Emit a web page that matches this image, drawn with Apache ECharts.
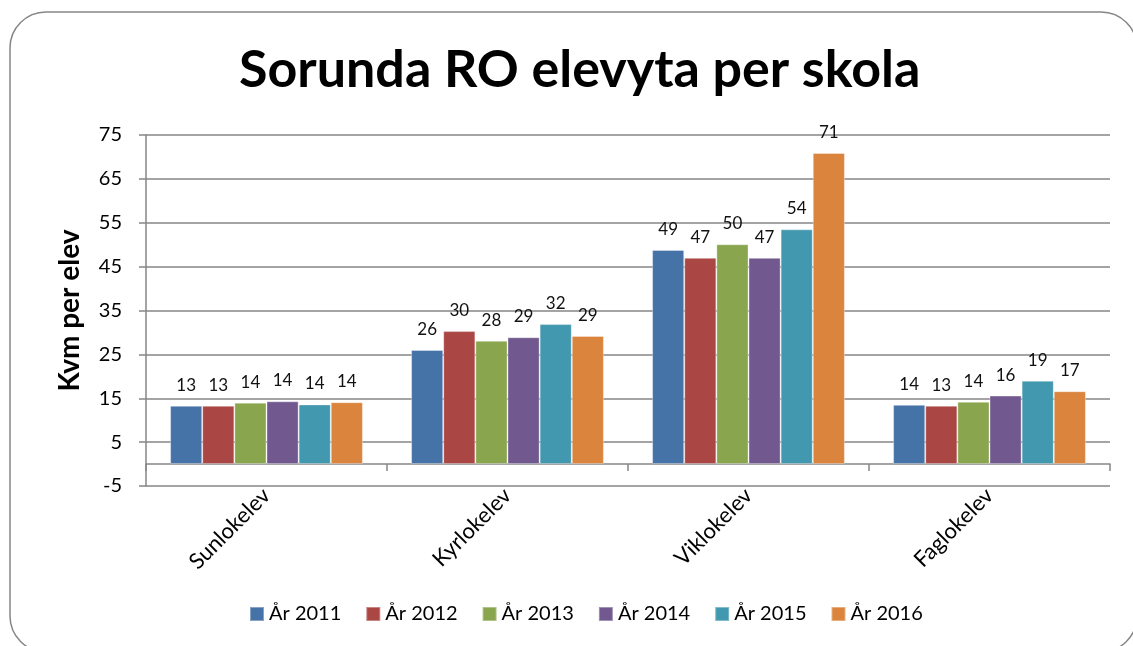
<!DOCTYPE html>
<html>
<head>
<meta charset="utf-8">
<script src="https://cdn.jsdelivr.net/npm/echarts@6/dist/echarts.min.js"></script>
<style>
  html, body { margin: 0; padding: 0; background: #fff; }
  #main { width: 1133px; height: 646px; }
</style>
</head>
<body>
<div id="main"></div>
<script>
const schools = ["Sunlokelev", "Kyrlokelev", "Viklokelev", "Faglokelev"];
const years = ["År 2011", "År 2012", "År 2013", "År 2014", "År 2015", "År 2016"];

const ar2011 = [13.3, 26.0, 48.8, 13.5];
const ar2012 = [13.3, 30.3, 47.0, 13.3];
const ar2013 = [14.0, 28.1, 50.1, 14.2];
const ar2014 = [14.3, 28.9, 47.0, 15.6];
const ar2015 = [13.6, 31.9, 53.5, 19.0];
const ar2016 = [14.1, 29.2, 70.9, 16.6];

const yTicks = { min: -5, max: 75, step: 10 };
const colors = ["#4572A7", "#AA4643", "#89A54E", "#71588F", "#4198AF", "#DB843D"];

const font = "Lato, 'Open Sans', sans-serif";
const grey = "#868686";

const chart = echarts.init(document.getElementById("main"));

const seriesData = [ar2011, ar2012, ar2013, ar2014, ar2015, ar2016];

const options = {
  color: colors,
  textStyle: { fontFamily: font },
  title: {
    text: "Sorunda RO elevyta per skola",
    left: 234,
    top: 39,
    textStyle: { fontFamily: font, fontSize: 52, fontWeight: "bold", color: "#000" },
  },
  graphic: [
    {
      type: "rect",
      shape: { x: 10, y: 12, width: 1127, height: 640, r: 36 },
      style: { fill: "none", stroke: grey, lineWidth: 1.5 },
      silent: true,
    },
  ],
  legend: {
    data: years,
    bottom: 17,
    left: 244,
    itemWidth: 14,
    itemHeight: 14,
    itemGap: 24,
    icon: "rect",
    textStyle: { fontFamily: font, fontSize: 20, color: "#000" },
  },
  grid: { left: 146, right: 23, top: 135, bottom: 160, containLabel: false },
  xAxis: {
    type: "category",
    data: schools,
    axisLine: { onZero: true, lineStyle: { color: grey, width: 1.5 } },
    axisTick: { show: true, length: 7, lineStyle: { color: grey, width: 1.5 } },
    axisLabel: {
      rotate: 45,
      margin: 6,
      fontFamily: font,
      fontSize: 22,
      color: "#000",
    },
  },
  yAxis: {
    type: "value",
    min: yTicks.min,
    max: yTicks.max,
    interval: yTicks.step,
    name: "Kvm per elev",
    nameLocation: "middle",
    nameGap: 62,
    nameTextStyle: { fontFamily: font, fontSize: 28, fontWeight: "bold", color: "#000" },
    axisLine: { show: true, lineStyle: { color: grey, width: 1.5 } },
    axisTick: { show: true, length: 7, lineStyle: { color: grey, width: 1.5 } },
    splitLine: { show: true, lineStyle: { color: grey, width: 1.5 } },
    axisLabel: { fontFamily: font, fontSize: 20, color: "#000", margin: 24 },
  },
  series: years.map((name, i) => ({
    name,
    type: "bar",
    data: seriesData[i],
    barGap: "0%",
    barCategoryGap: "20%",
    itemStyle: { borderColor: "rgba(255,255,255,0.35)", borderWidth: 1 },
    label: {
      show: true,
      position: "top",
      distance: 12,
      fontFamily: font,
      fontSize: 17,
      color: "#111",
      formatter: (p) => Math.round(p.value),
    },
  })),
};

chart.setOption(options);
</script>
</body>
</html>
